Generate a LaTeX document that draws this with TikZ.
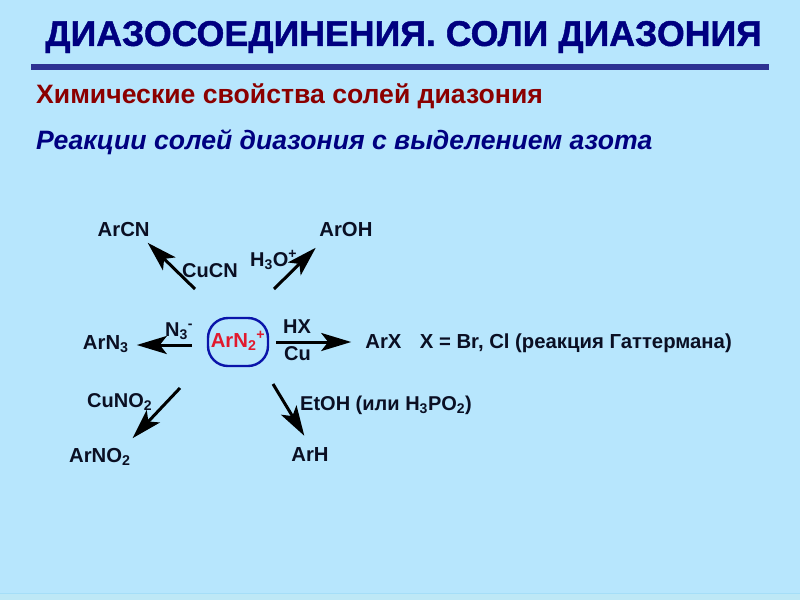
\documentclass[tikz,border=0pt]{standalone}
\usepackage{fontspec}
\setmainfont{Liberation Sans}
\newfontfamily\titlefont[BoldFeatures={FakeBold=1.2}]{Liberation Sans}
\usetikzlibrary{positioning,arrows.meta,calc}
\definecolor{mybg}{RGB}{183,230,253}
\definecolor{myedge}{RGB}{165,222,248}
\definecolor{mystrip}{RGB}{190,232,246}
\definecolor{mynavy}{RGB}{0,0,128}
\definecolor{myrule}{RGB}{46,49,146}
\definecolor{mydark}{RGB}{139,0,0}
\definecolor{myink}{RGB}{10,15,35}
\definecolor{myred}{RGB}{225,25,45}
\definecolor{myoval}{RGB}{10,20,170}
\tikzset{
    head/.style={
        anchor=west,
        inner sep=0pt,
        font=\bfseries\fontsize{26.6}{30}\selectfont
    },
    prod/.style={
        inner sep=2pt,
        text height=14pt,
        text depth=4pt,
        text=myink,
        font=\bfseries\fontsize{20.3}{24}\selectfont
    },
    lbl/.style={
        anchor=base west,
        inner sep=0pt,
        text=myink,
        font=\bfseries\fontsize{20}{24}\selectfont
    },
    rxn/.style={
        line width=3pt,
        black,
        -{Stealth[length=30pt,width=18pt,inset=7pt]}
    }
}
\begin{document}
\begin{tikzpicture}[x=1pt,y=-1pt]
\useasboundingbox (0,0) rectangle (800,600);
\fill[mybg] (0,0) rectangle (800,600);
\fill[mystrip] (0,594) rectangle (800,600);
\draw[myedge] (0,593) -- (800,593);
\node[head,text=mynavy,font=\titlefont\bfseries\fontsize{35.7}{40}\selectfont] (title) at (45,37) {ДИАЗОСОЕДИНЕНИЯ. СОЛИ ДИАЗОНИЯ};
\coordinate (rulel) at (31,67);
\coordinate (ruler) at (769,67);
\draw[myrule,line width=6pt] (rulel) -- (ruler);
\node[head,text=mydark] (sub1) at (36,96) {Химические свойства солей диазония};
\node[head,text=mynavy,font=\bfseries\itshape\fontsize{26.6}{30}\selectfont,below=21pt of sub1.south west,anchor=north west] (sub2) {Реакции солей диазония с выделением азота};
% центр схемы
\node[prod,draw=myoval,line width=2.4pt,rounded corners=20pt,minimum width=60pt,minimum height=48pt,inner sep=0pt,text=myred] (salt) at (238,342) {ArN\textsubscript{2}\textsuperscript{+}};
\node[prod,anchor=south east,above left=74pt and 55pt of salt.north west] (arcn) {ArCN};
\node[prod,anchor=south west,above right=74pt and 48pt of salt.north east] (aroh) {ArOH};
\node[prod,left=76pt of salt,yshift=-2pt] (arn3) {ArN\textsubscript{3}};
\node[prod,right=94pt of salt,yshift=-1pt] (arx) {ArX};
\node[prod,right=14pt of arx] (note) {X = Br, Cl (реакция Гаттермана)};
\node[prod,anchor=north east,below left=79pt and 74pt of salt.south west] (arno2) {ArNO\textsubscript{2}};
\node[prod,below=78pt of salt.south,xshift=72pt] (arh) {ArH};
% над стрелками
\node[lbl] (cucn) at (182,277) {CuCN};
\node[lbl] (h3o) at (250,266) {H\textsubscript{3}O\textsuperscript{+}};
\node[lbl] (n3) at (165,336) {N\textsubscript{3}\textsuperscript{-}};
\node[lbl] (hx) at (283,333) {HX};
\node[lbl] (cu) at (284,360) {Cu};
\node[lbl] (cuno2) at (87,407) {CuNO\textsubscript{2}};
\node[lbl] (etoh) at (300,410) {EtOH (или H\textsubscript{3}PO\textsubscript{2})};
% начала стрелок
\coordinate (tcn) at (195,289);
\coordinate (toh) at (274,289);
\coordinate (tn3) at (192,345);
\coordinate (tno2) at (180,388);
\coordinate (th) at (273,384);
\draw[rxn] (tcn) -- (arcn.335);
\draw[rxn,shorten >=7pt] (toh) -- (aroh.204);
\draw[rxn,shorten >=6pt] (tn3) -- (tn3 -| arn3.east);
\draw[rxn,shorten <=7pt,shorten >=12pt] (salt.east) -- (salt.east -| arx.west);
\draw[rxn,shorten >=11pt] (tno2) -- (arno2.24);
\draw[rxn,shorten >=11pt] (th) -- (arh.north);
\end{tikzpicture}
\end{document}
